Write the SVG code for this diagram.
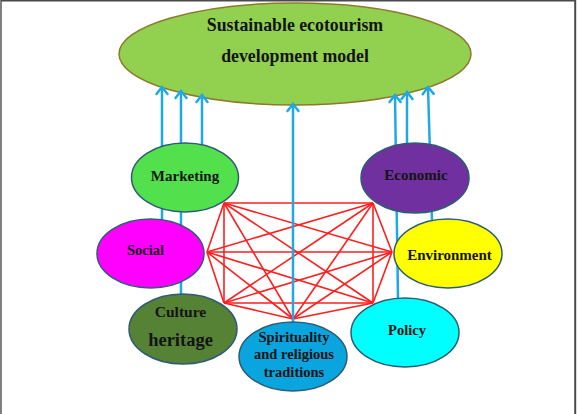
<svg xmlns="http://www.w3.org/2000/svg" width="578" height="414" viewBox="0 0 578 414">
  <style>
    text { font-family: "Liberation Serif", "Times New Roman", serif; font-weight: bold; fill: #141414; text-anchor: middle; }
    .node { stroke: #2F5C74; stroke-width: 1.5; }
    .red line { stroke: #FF1E1E; stroke-width: 1.6; }
    .arrow { stroke: #1FA8E6; stroke-width: 2.5; fill: none; marker-end: url(#chev); }
    .frame { fill: none; stroke: #4a4a4a; }
  </style>
  <defs>
    <marker id="chev" viewBox="-10 -8 12 16" refX="0" refY="0" markerWidth="12" markerHeight="16" markerUnits="userSpaceOnUse" orient="auto" overflow="visible">
      <path d="M-7,-5.5 L0,0 L-7,5.5" fill="none" stroke="#1FA8E6" stroke-width="2.5" stroke-linejoin="miter" stroke-linecap="round"/>
    </marker>
  </defs>

  <rect x="0" y="0" width="578" height="414" fill="#ffffff"/>
  <path class="frame" d="M1,414 V0.7 H575" stroke-width="1.4"/>
  <path class="frame" d="M575.2,0 V414" stroke-width="2"/>

  <g id="goal">
    <ellipse cx="295" cy="54" rx="176" ry="51" fill="#92D050" stroke="#8C7A2C" stroke-width="1.5"/>
    <text x="295" y="30.5" font-size="17.8">Sustainable ecotourism</text>
    <text x="295" y="62" font-size="17.8">development model</text>
  </g>

  <g id="connectors">
    <g class="red">
      <line x1="224" y1="203" x2="373" y2="203"/>
      <line x1="224" y1="203" x2="207" y2="252"/>
      <line x1="224" y1="203" x2="392" y2="252"/>
      <line x1="224" y1="203" x2="224" y2="303"/>
      <line x1="224" y1="203" x2="373" y2="303"/>
      <line x1="224" y1="203" x2="293" y2="319"/>
      <line x1="373" y1="203" x2="207" y2="252"/>
      <line x1="373" y1="203" x2="392" y2="252"/>
      <line x1="373" y1="203" x2="224" y2="303"/>
      <line x1="373" y1="203" x2="373" y2="303"/>
      <line x1="373" y1="203" x2="293" y2="319"/>
      <line x1="207" y1="252" x2="392" y2="252"/>
      <line x1="207" y1="252" x2="224" y2="303"/>
      <line x1="207" y1="252" x2="373" y2="303"/>
      <line x1="207" y1="252" x2="293" y2="319"/>
      <line x1="392" y1="252" x2="224" y2="303"/>
      <line x1="392" y1="252" x2="373" y2="303"/>
      <line x1="392" y1="252" x2="293" y2="319"/>
      <line x1="224" y1="303" x2="373" y2="303"/>
      <line x1="224" y1="303" x2="293" y2="319"/>
      <line x1="373" y1="303" x2="293" y2="319"/>
    </g>
    <line class="arrow" x1="162" y1="221" x2="162" y2="87"/>
    <line class="arrow" x1="181" y1="296" x2="181" y2="91"/>
    <line class="arrow" x1="202" y1="145" x2="202" y2="95"/>
    <line class="arrow" x1="293" y1="323" x2="293" y2="104"/>
    <line class="arrow" x1="398" y1="299" x2="395" y2="95"/>
    <line class="arrow" x1="407" y1="145" x2="407" y2="92"/>
    <line class="arrow" x1="432" y1="221" x2="428" y2="87"/>
  </g>

  <g id="marketing">
    <ellipse class="node" cx="185" cy="177.5" rx="53.5" ry="34.5" fill="#52E04C"/>
    <text x="185" y="181" font-size="15">Marketing</text>
  </g>
  <g id="economic">
    <ellipse class="node" cx="415" cy="178" rx="54" ry="35" fill="#7030A0"/>
    <text x="416" y="180" font-size="15">Economic</text>
  </g>
  <g id="social">
    <ellipse class="node" cx="150.5" cy="253.5" rx="53.5" ry="34.5" fill="#FF00FF" stroke="#5A3C98"/>
    <text x="145.5" y="255" font-size="14.5">Social</text>
  </g>
  <g id="environment">
    <ellipse class="node" cx="448" cy="253.5" rx="54" ry="34.5" fill="#FFFF00"/>
    <text x="449.5" y="260" font-size="15">Environment</text>
  </g>
  <g id="culture-heritage">
    <ellipse class="node" cx="183" cy="329" rx="54" ry="35" fill="#558235"/>
    <text x="180.5" y="317" font-size="15.5">Culture</text>
    <text x="180.5" y="345.5" font-size="18.5">heritage</text>
  </g>
  <g id="policy">
    <ellipse class="node" cx="405" cy="332.5" rx="54" ry="34.5" fill="#00FFFF"/>
    <text x="407" y="335" font-size="14.5">Policy</text>
  </g>
  <g id="spirituality">
    <ellipse class="node" cx="293" cy="356.5" rx="54" ry="34.5" fill="#0AA4DE"/>
    <text x="294" y="341.5" font-size="14.5">Spirituality</text>
    <text x="294" y="359" font-size="14.5">and religious</text>
    <text x="294" y="376.5" font-size="14.5">traditions</text>
  </g>
</svg>
